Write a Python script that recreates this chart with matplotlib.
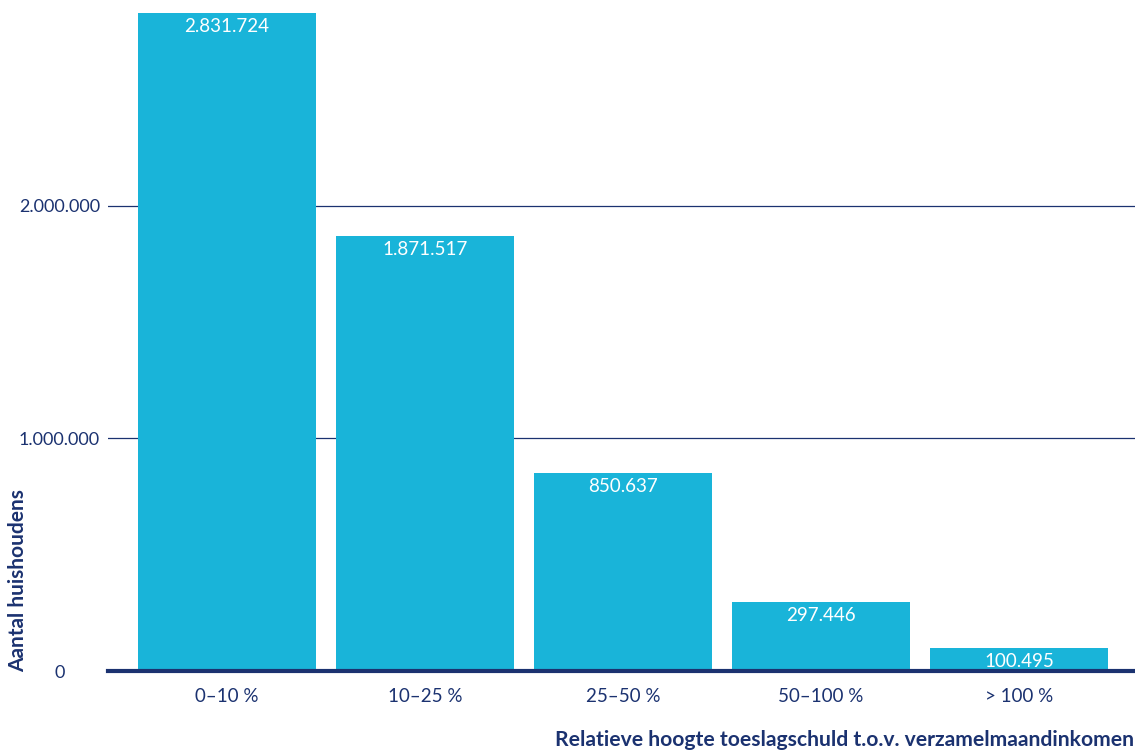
import matplotlib.pyplot as plt

categories = ['0\u201310 %', '10\u201325 %', '25\u201350 %', '50\u2013100 %', '> 100 %']
households = [2831724, 1871517, 850637, 297446, 100495]
value_labels = ['2.831.724', '1.871.517', '850.637', '297.446', '100.495']
y_ticks = [0, 1000000, 2000000]
y_tick_labels = ['0', '1.000.000', '2.000.000']

bar_color = '#19B4D9'
navy = '#1B3270'

plt.rcParams['font.family'] = ['Lato', 'DejaVu Sans']

fig = plt.figure(figsize=(11.35, 7.51), dpi=100)
ax = fig.add_axes([108 / 1135, 80 / 751, 1 - 108 / 1135, 671 / 751])

x = range(len(categories))
ax.bar(x, households, width=0.9, color=bar_color, zorder=2)

for i, (v, lab) in enumerate(zip(households, value_labels)):
    ax.text(i, v - 22000, lab, ha='center', va='top', color='white', fontsize=13.5, zorder=5)

ax.set_xlim(-0.601, 4.586)
ax.set_ylim(0, 2886000)

for t in y_ticks[1:]:
    ax.axhline(t, color=navy, linewidth=0.9, zorder=1)
ax.axhline(0, color=navy, linewidth=3, zorder=4, clip_on=False)

ax.set_yticks(y_ticks)
ax.set_yticklabels(y_tick_labels)
ax.set_xticks(list(x))
ax.set_xticklabels(categories)
ax.tick_params(axis='both', length=0, labelsize=13.5, labelcolor=navy)
ax.tick_params(axis='y', labelsize=13)
ax.tick_params(axis='x', pad=12)
for lab in ax.get_yticklabels():
    lab.set_horizontalalignment('center')
ax.tick_params(axis='y', pad=35)

for s in ax.spines.values():
    s.set_visible(False)

fig.text(18 / 1135, 1 - 672 / 751, 'Aantal huishoudens', rotation=90, ha='center', va='bottom',
         fontsize=15, fontweight='bold', color=navy)
fig.text(1134 / 1135, 1 - 740 / 751, 'Relatieve hoogte toeslagschuld t.o.v. verzamelmaandinkomen',
         ha='right', va='center', fontsize=15.2, fontweight='bold', color=navy)

fig.savefig('out.png', dpi=100)
